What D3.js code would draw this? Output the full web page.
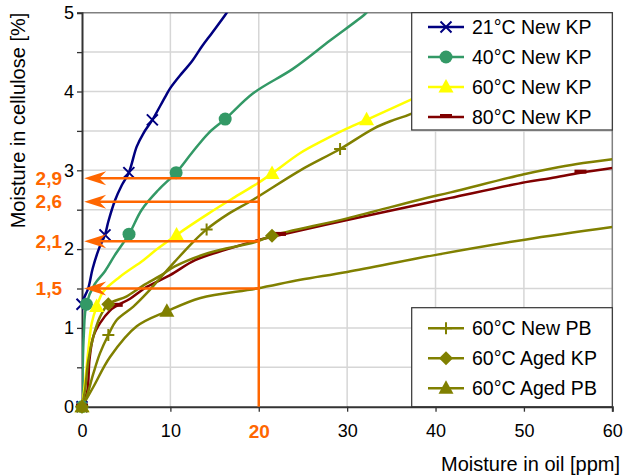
<!DOCTYPE html>
<html>
<head>
<meta charset="utf-8">
<script src="https://cdn.jsdelivr.net/npm/d3@7"></script>
<style>
  html, body { margin: 0; padding: 0; background: #fff; }
  svg { display: block; font-family: "Liberation Sans", Arial, sans-serif; }
</style>
</head>
<body>
<svg id="chart" width="628" height="475"></svg>
<script>
// Axis ticks
const xTicks = [0, 10, 20, 30, 40, 50, 60];
const yTicks = [0, 1, 2, 3, 4, 5];
const yHalfTicks = [0.5, 1.5, 2.5, 3.5, 4.5];

// Isotherm curves: [moisture in oil (ppm), moisture in cellulose (%)]
const kp21Line = [[0,0],[0,1.3],[0.7,1.5],[1.2,1.75],[1.9,2.0],[2.6,2.18],[2.98,2.35],[3.74,2.62],[4.5,2.81],[5.3,2.97],[6.19,3.3],[6.95,3.47],[7.96,3.64],[9.4,3.93],[9.97,4.04],[11.29,4.23],[12.42,4.38],[13.56,4.57],[14.69,4.74],[16.2,4.97],[16.6,5.04]];
const kp21Marks = [[0,0],[0,1.3],[2.6,2.18],[5.3,2.97],[7.96,3.64]];

const kp40Line = [[0,0],[0.2,0.9],[0.5,1.3],[1.4,1.55],[2.6,1.72],[3.7,1.92],[5.32,2.19],[6.76,2.5],[8.64,2.75],[10.65,2.97],[12.42,3.22],[14.3,3.47],[16.2,3.65],[19.4,3.98],[23.9,4.29],[28.1,4.65],[32.0,4.98],[32.4,5.03]];
const kp40Marks = [[0,0],[0.5,1.3],[5.32,2.19],[10.65,2.97],[16.2,3.65]];

const kp60Line = [[0,0],[0.34,0.3],[0.72,0.72],[1.1,1.06],[1.66,1.27],[2.4,1.46],[4.3,1.65],[6.95,1.86],[8.5,2.0],[10.7,2.18],[14.3,2.45],[17.3,2.66],[19.8,2.83],[21.5,2.96],[24.7,3.22],[27.3,3.38],[29.6,3.51],[32.2,3.64],[37.1,3.89],[45,4.3]];
const kp60Marks = [[0,0],[1.66,1.27],[10.7,2.18],[21.5,2.96],[32.2,3.64]];

const kp80Line = [[0,0],[0.6,0.2],[0.85,0.6],[1.28,0.89],[2.04,1.06],[3.17,1.22],[3.93,1.28],[5.44,1.37],[7.33,1.52],[9.97,1.67],[12.8,1.86],[16.2,1.99],[19.8,2.11],[22.4,2.18],[30,2.37],[38.3,2.57],[41.7,2.65],[50.2,2.85],[53,2.9],[56.4,2.97],[60,3.03]];
const kp80Marks = [[0,0],[3.93,1.28],[22.4,2.18],[56.4,2.97]];

const pbNewLine = [[0,0],[0.53,0.13],[1.28,0.42],[2.04,0.68],[2.98,0.91],[3.93,1.1],[5.81,1.27],[7.33,1.44],[8.83,1.63],[10.5,1.84],[12.4,2.07],[14.1,2.25],[16.6,2.45],[19.4,2.63],[24.7,3.0],[29.2,3.27],[33,3.53],[35.3,3.64],[37.3,3.72],[45,4.2]];
const pbNewMarks = [[0,0],[2.98,0.91],[14.1,2.25],[29.2,3.27]];

const kpAgedLine = [[0,0],[0.34,0.21],[0.72,0.59],[1.28,0.89],[2.04,1.14],[2.98,1.3],[5.06,1.4],[6.95,1.54],[8.83,1.66],[10.5,1.78],[14.3,1.95],[19.6,2.09],[21.5,2.17],[30,2.39],[38.3,2.63],[41.7,2.72],[50,2.95],[53,3.02],[56,3.08],[60,3.14]];
const kpAgedMarks = [[0,0],[2.98,1.3],[21.5,2.17]];

const pbAgedLine = [[0,0],[1.28,0.25],[3.17,0.63],[6.19,1.02],[9.6,1.21],[13.4,1.38],[19.8,1.5],[24.7,1.61],[30,1.71],[40.2,1.93],[50.1,2.12],[60,2.28]];
const pbAgedMarks = [[0,0],[9.6,1.21]];

const seriesNames = ["21°C New KP", "40°C New KP", "60°C New KP", "80°C New KP", "60°C New PB", "60°C Aged KP", "60°C Aged PB"];
const seriesColors = ["#000080", "#339966", "#FFFF00", "#800000", "#808000", "#808000", "#808000"];
const seriesSymbols = ["x", "circle", "triangle", "dash", "plus", "diamond", "triangle"];
const seriesLines = [kp21Line, kp40Line, kp60Line, kp80Line, pbNewLine, kpAgedLine, pbAgedLine];
const seriesMarks = [kp21Marks, kp40Marks, kp60Marks, kp80Marks, pbNewMarks, kpAgedMarks, pbAgedMarks];

// Reading lines at 20 ppm
const readX = 20;
const readLevels = [2.9, 2.6, 2.1, 1.5];
const readLabels = ["2,9", "2,6", "2,1", "1,5"];

(function () {
  const series = seriesNames.map((name, i) => ({
    name, color: seriesColors[i], symbol: seriesSymbols[i],
    line: seriesLines[i], marks: seriesMarks[i]
  }));

  const svg = d3.select("#chart");
  const pl = 82, pr = 612.3, pt = 12.7, pb = 406.7;
  const x = d3.scaleLinear().domain([0, 60]).range([pl, pr]);
  const y = d3.scaleLinear().domain([0, 5]).range([pb, pt]);
  const orange = "#FF6600";

  svg.append("defs").append("clipPath").attr("id", "plotClip")
    .append("rect").attr("x", pl).attr("y", pt)
    .attr("width", pr - pl).attr("height", pb - pt);

  // Gridlines
  const grid = svg.append("g");
  grid.selectAll("line.h").data(yTicks.concat(yHalfTicks).filter(v => v > 0 && v < 5))
    .join("line").attr("class", "h").attr("x1", pl).attr("x2", pr)
    .attr("y1", d => y(d)).attr("y2", d => y(d))
    .attr("stroke", "#d6d6d6").attr("stroke-width", 1.5);
  grid.selectAll("line.v").data(xTicks.filter(v => v > 0 && v < 60))
    .join("line").attr("class", "v").attr("y1", pt).attr("y2", pb)
    .attr("x1", d => x(d)).attr("x2", d => x(d))
    .attr("stroke", "#d6d6d6").attr("stroke-width", 1.5);

  // Frame on top and right
  svg.append("path")
    .attr("d", `M${pl},${pt}H${pr}V${pb}`)
    .attr("fill", "none").attr("stroke", "#808080").attr("stroke-width", 1.5);

  // Axes
  const xAxis = svg.append("g").attr("transform", `translate(0,${pb})`)
    .call(d3.axisBottom(x).tickValues(xTicks).tickSize(5).tickPadding(13).tickFormat(d3.format("d")));
  const yAxis = svg.append("g").attr("transform", `translate(${pl},0)`)
    .call(d3.axisLeft(y).tickValues(yTicks.concat(yHalfTicks)).tickSize(5).tickPadding(3)
      .tickFormat(d => Number.isInteger(d) ? d : ""));
  [xAxis, yAxis].forEach(a => {
    a.select(".domain").attr("stroke", "#333").attr("stroke-width", 2);
    a.selectAll(".tick line").attr("stroke", "#333").attr("stroke-width", 1.3);
    a.selectAll(".tick text").attr("fill", "#000").attr("font-size", 18)
      .attr("font-family", "'Liberation Sans', Arial, sans-serif");
  });
  xAxis.selectAll(".tick text").filter(d => d === readX)
    .attr("fill", orange).attr("font-weight", "bold").attr("font-size", 19);

  // Axis titles
  svg.append("text").attr("transform", "translate(25,120.5) rotate(-90)")
    .attr("text-anchor", "middle").attr("font-size", 20).text("Moisture in cellulose [%]");
  svg.append("text").attr("x", 620).attr("y", 471)
    .attr("text-anchor", "end").attr("font-size", 20).text("Moisture in oil [ppm]");

  // Marker symbols
  function drawSymbol(g, type, color, cx, cy) {
    const s = g.append("g").attr("transform", `translate(${cx},${cy})`);
    if (type === "x") {
      s.append("path").attr("d", "M-5.5,-5.5L5.5,5.5M-5.5,5.5L5.5,-5.5")
        .attr("stroke", color).attr("stroke-width", 2).attr("fill", "none");
    } else if (type === "plus") {
      s.append("path").attr("d", "M-6,0H6M0,-6V6")
        .attr("stroke", color).attr("stroke-width", 2).attr("fill", "none");
    } else if (type === "circle") {
      s.append("circle").attr("r", 6.5).attr("fill", color);
    } else if (type === "triangle") {
      s.append("path").attr("d", "M0,-8L7.5,5.5L-7.5,5.5Z").attr("fill", color);
    } else if (type === "diamond") {
      s.append("path").attr("d", "M0,-7L7,0L0,7L-7,0Z").attr("fill", color);
    } else if (type === "dash") {
      s.append("rect").attr("x", -6).attr("y", -3).attr("width", 12).attr("height", 4).attr("fill", color);
    }
  }

  // Curves
  const lineGen = d3.line().x(d => x(d[0])).y(d => y(d[1])).curve(d3.curveCatmullRom.alpha(0.5));
  const curves = svg.append("g").attr("clip-path", "url(#plotClip)");
  series.forEach(s => {
    curves.append("path").datum(s.line).attr("d", lineGen)
      .attr("fill", "none").attr("stroke", s.color).attr("stroke-width", 2.5)
      .attr("stroke-linejoin", "round");
  });
  const marks = svg.append("g");
  series.forEach(s => {
    s.marks.forEach(p => drawSymbol(marks, s.symbol, s.color, x(p[0]), y(p[1])));
  });

  // Reading arrows at 20 ppm
  const ann = svg.append("g");
  const tipX = x(0.25);
  ann.append("line").attr("x1", x(readX)).attr("x2", x(readX))
    .attr("y1", y(0)).attr("y2", y(d3.max(readLevels)) - 1.2)
    .attr("stroke", orange).attr("stroke-width", 2.5);
  readLevels.forEach((v, i) => {
    const yy = y(v);
    ann.append("line").attr("x1", x(readX) + 1.2).attr("x2", tipX + 14)
      .attr("y1", yy).attr("y2", yy).attr("stroke", orange).attr("stroke-width", 2.5);
    ann.append("path")
      .attr("d", `M${tipX},${yy}L${tipX + 22},${yy - 7}L${tipX + 15},${yy}L${tipX + 22},${yy + 7}Z`)
      .attr("fill", orange);
    ann.append("text").attr("x", 62).attr("y", yy).attr("dy", "0.35em")
      .attr("text-anchor", "end").attr("font-size", 19).attr("font-weight", "bold")
      .attr("fill", orange).text(readLabels[i]);
  });

  // Legends
  function legend(items, bx, by, bw, bh, rows) {
    const g = svg.append("g");
    g.append("rect").attr("x", bx).attr("y", by).attr("width", bw).attr("height", bh)
      .attr("fill", "#fff").attr("stroke", "#333").attr("stroke-width", 1.2);
    items.forEach((s, i) => {
      const ry = rows[i];
      g.append("line").attr("x1", 428).attr("x2", 464).attr("y1", ry).attr("y2", ry)
        .attr("stroke", s.color).attr("stroke-width", 2.5);
      drawSymbol(g, s.symbol, s.color, 446, ry);
      g.append("text").attr("x", 472).attr("y", ry).attr("dy", "0.35em")
        .attr("font-size", 19.5).attr("fill", "#000").text(s.name);
    });
  }
  legend(series.slice(0, 4), 411.7, pt, pr - 411.7, 117.3, [27, 57, 87, 117]);
  legend(series.slice(4), 411.7, 307.7, pr - 411.7, pb - 307.7, [328.3, 358.3, 388.3]);
})();
</script>
</body>
</html>
